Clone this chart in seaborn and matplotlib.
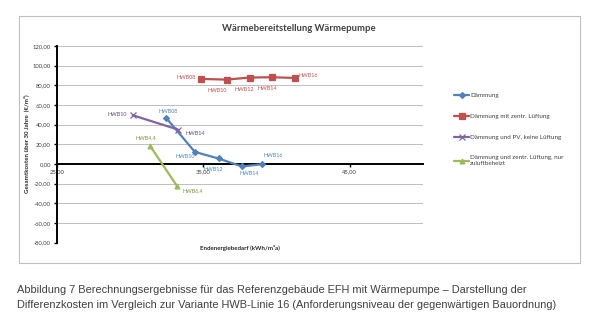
import matplotlib
matplotlib.use("Agg")
import matplotlib.pyplot as plt
import seaborn as sns
import pandas as pd
from matplotlib.patches import Rectangle

# ---- data ----
title = "Wärmebereitstellung Wärmepumpe"
x_label = "Endenergiebedarf (kWh/m²a)"
y_label = "Gesamtkosten über 30 Jahre  (€/m²)"
caption = ("Abbildung 7 Berechnungsergebnisse für das Referenzgebäude EFH mit Wärmepumpe – Darstellung der\n"
           "Differenzkosten im Vergleich zur Variante HWB-Linie 16 (Anforderungsniveau der gegenwärtigen Bauordnung)")

series_names = ["Dämmung", "Dämmung mit zentr. Lüftung",
                "Dämmung und PV, keine Lüftung",
                "Dämmung und zentr. Lüftung, nur\nzuluftbeheizt"]

daemmung_x = [32.45, 34.41, 36.03, 37.63, 39.00]
daemmung_y = [46.8, 12.2, 5.5, -2.6, -0.3]
daemmung_lbl = ["HWB08", "HWB10", "HWB12", "HWB14", "HWB16"]

lueftung_x = [34.82, 36.60, 38.15, 39.70, 41.23]
lueftung_y = [86.5, 85.8, 87.9, 88.2, 87.5]
lueftung_lbl = ["HWB08", "HWB10", "HWB12", "HWB14", "HWB16"]

pv_x = [30.16, 33.25]
pv_y = [49.5, 35.0]
pv_lbl = ["HWB10", "HWB14"]

zuluft_x = [31.35, 33.20]
zuluft_y = [18.3, -22.7]
zuluft_lbl = ["HWB4,4", "HWB6,4"]

x_ticks = [25, 35, 45]
y_ticks = [-80, -60, -40, -20, 0, 20, 40, 60, 80, 100, 120]

# ---- styling ----
sns.set_theme(style="white")
plt.rcParams["font.family"] = ["Lato", "DejaVu Sans"]

colors = ["#4F81BD", "#C0504D", "#8064A2", "#9BBB59"]
label_colors = ["#4F81BD", "#C0504D", "#5F4B7A", "#77933C"]
markers = ["D", "s", "x", "^"]
msizes = [3.0, 4.2, 4.0, 3.5]
# label offsets in pixels (dx, dy)
offsets = [
    [(2, 6), (-10, -5), (-5, -11), (7, -7.5), (11, 8.5)],
    [(-15, 1.5), (-9.5, -10.7), (-5, -12), (-4.5, -11.3), (14, 2.5)],
    [(-15.5, 0.5), (17, -3.5)],
    [(-4, 8.5), (15.5, -5)],
]

fig = plt.figure(figsize=(6, 3.23), dpi=100)
fig.patch.set_facecolor("white")
ax = fig.add_axes([57.3 / 600, 1 - 242.5 / 323, (422.7 - 57.3) / 600, (242.5 - 46) / 323])
ax.set_facecolor("white")

# chart border
fig.patches.append(Rectangle((19 / 600, 1 - 263 / 323), (580 - 19) / 600, (263 - 16) / 323,
                             transform=fig.transFigure, fill=False, edgecolor="#BFBFBF",
                             linewidth=0.8))

data = [(daemmung_x, daemmung_y, daemmung_lbl),
        (lueftung_x, lueftung_y, lueftung_lbl),
        (pv_x, pv_y, pv_lbl),
        (zuluft_x, zuluft_y, zuluft_lbl)]

for i, (xs, ys, lbls) in enumerate(data):
    df = pd.DataFrame({"x": xs, "y": ys})
    sns.lineplot(data=df, x="x", y="y", ax=ax, color=colors[i], marker=markers[i],
                 markersize=msizes[i], markeredgecolor=colors[i], markeredgewidth=0.9,
                 linewidth=1.6, sort=False, label=series_names[i], zorder=3)
    for j, (xv, yv, t) in enumerate(zip(xs, ys, lbls)):
        dx, dy = offsets[i][j]
        ax.annotate(t, (xv, yv), xytext=(dx * 0.72, dy * 0.72), textcoords="offset points",
                    ha="center", va="center", fontsize=3.9, color=label_colors[i], zorder=4)

ax.set_xlim(25, 50)
ax.set_ylim(-80, 120)
ax.set_xticks(x_ticks)
ax.set_xticklabels([f"{v:.2f}".replace(".", ",") for v in x_ticks])
ax.set_yticks(y_ticks)
ax.set_yticklabels([f"{v:.2f}".replace(".", ",") for v in y_ticks])
ax.grid(axis="y", color="#BFBFBF", linewidth=0.7)
ax.grid(axis="x", visible=False)
ax.set_axisbelow(True)

for s in ["top", "right"]:
    ax.spines[s].set_visible(False)
ax.spines["left"].set_color("black")
ax.spines["left"].set_linewidth(1.4)
ax.spines["bottom"].set_position(("data", 0))
ax.spines["bottom"].set_color("black")
ax.spines["bottom"].set_linewidth(1.4)
ax.tick_params(axis="y", which="both", left=True, direction="out", length=2.5, width=1,
               color="black", labelsize=4.2, labelcolor="#404040", pad=2)
ax.tick_params(axis="x", which="both", bottom=True, direction="out", length=2.5, width=1,
               color="black", labelsize=4.2, labelcolor="#404040", pad=1.5)
ax.set_xlabel("")
ax.set_ylabel("")

leg = ax.get_legend()
if leg is not None:
    leg.remove()
handles, labels = ax.get_legend_handles_labels()
fig.legend(handles, labels, loc="upper left", bbox_to_anchor=(454 / 600, 1 - 92.5 / 323),
           frameon=False, fontsize=4.5, labelspacing=2.5, handlelength=2.4,
           handletextpad=0.2, borderpad=0, borderaxespad=0, labelcolor="#404040")

fig.text(298.5 / 600, 1 - 28.3 / 323, title, ha="center", va="center",
         fontsize=6.8, fontweight="bold", color="#404040")
fig.text(240 / 600, 1 - 247.7 / 323, x_label, ha="center", va="center",
         fontsize=4.4, fontweight="bold", color="#262626")
fig.text(26 / 600, 1 - 144 / 323, y_label, ha="center", va="center", rotation=90,
         fontsize=4.4, fontweight="bold", color="#262626")

fig.text(17.3 / 600, 1 - 297.5 / 323, caption, ha="left", va="center",
         fontsize=7.95, color="#404040", family=["Liberation Sans", "DejaVu Sans"],
         linespacing=1.72)

fig.savefig("out.png", dpi=100, facecolor="white")
